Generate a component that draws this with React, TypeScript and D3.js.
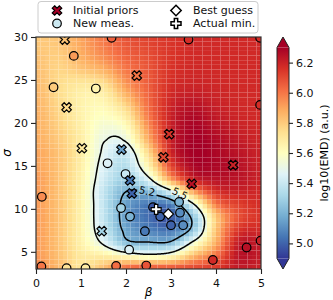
import React, { useEffect, useRef } from 'react';
import * as d3 from 'd3';

// surface nodes: log10(EMD) at (beta, sigma)
const betaNodes = [0, 0.5, 1, 1.5, 2, 2.5, 3, 3.5, 4, 4.5, 5];
const sigmaNodes = [3, 4.5, 6, 7.5, 9, 10.5, 12, 13.5, 15, 16.5, 18, 21, 24, 27, 30];
// one row per sigma node (bottom to top), one column per beta node
const emdGrid = [
  [5.97, 5.85, 5.72, 5.85, 6.05, 6.10, 6.10, 6.12, 6.15, 6.22, 6.20],
  [5.93, 5.83, 5.70, 5.68, 5.62, 5.56, 5.62, 5.85, 6.02, 6.24, 6.22],
  [5.92, 5.82, 5.66, 5.48, 5.25, 5.22, 5.24, 5.55, 5.88, 6.22, 6.22],
  [5.92, 5.82, 5.65, 5.40, 5.17, 5.08, 5.05, 5.27, 5.82, 6.15, 6.18],
  [5.92, 5.82, 5.65, 5.38, 5.14, 5.02, 4.98, 5.25, 5.80, 6.08, 6.15],
  [5.92, 5.82, 5.65, 5.38, 5.15, 5.05, 5.08, 5.48, 5.98, 6.12, 6.17],
  [5.92, 5.82, 5.65, 5.38, 5.20, 5.22, 5.45, 5.90, 6.15, 6.20, 6.18],
  [5.92, 5.82, 5.66, 5.42, 5.30, 5.47, 5.92, 6.20, 6.25, 6.24, 6.20],
  [5.90, 5.82, 5.67, 5.45, 5.35, 5.65, 6.10, 6.28, 6.28, 6.25, 6.20],
  [5.90, 5.82, 5.68, 5.48, 5.40, 5.75, 6.18, 6.30, 6.28, 6.24, 6.20],
  [5.88, 5.80, 5.68, 5.51, 5.52, 5.88, 6.20, 6.30, 6.27, 6.22, 6.19],
  [5.87, 5.77, 5.66, 5.60, 5.70, 6.00, 6.20, 6.27, 6.22, 6.19, 6.18],
  [5.85, 5.75, 5.68, 5.70, 5.90, 6.05, 6.17, 6.20, 6.19, 6.18, 6.18],
  [5.83, 5.78, 5.85, 5.92, 6.02, 6.08, 6.15, 6.18, 6.18, 6.18, 6.18],
  [5.80, 5.82, 5.90, 6.00, 6.08, 6.12, 6.15, 6.18, 6.18, 6.18, 6.18],
];

const priorBeta = [0.64, 0.68, 1.02, 1.9, 2.24, 2.96, 2.83, 3.46, 4.38, 2.09, 2.13, 1.46];
const priorSigma = [29.7, 21.8, 17.05, 16.9, 25.5, 18.7, 16.0, 12.9, 15.1, 13.3, 11.8, 7.4];
const priorEmd = [5.82, 5.75, 5.7, 5.15, 6.0, 6.15, 6.1, 6.25, 6.2, 5.05, 5.0, 5.3];

const measBeta = [1.68, 0.84, 0.39, 1.33, 1.59, 3.39, 4.98, 4.98, 0.13, 0.12, 0.68, 1.1, 1.78, 1.99,
  1.89, 2.09, 2.07, 2.42, 2.45, 2.6, 2.76, 3.0, 3.2, 3.27, 3.18, 3.93, 4.68, 4.99];
const measSigma = [29.9, 27.8, 24.15, 24.0, 15.3, 29.7, 29.9, 22.1, 11.4, 3.3, 3.1, 3.1, 3.35, 14.05,
  10.1, 9.1, 5.25, 7.4, 3.4, 10.2, 9.1, 8.1, 9.55, 8.1, 10.8, 4.05, 5.5, 6.3];
const measEmd = [6.05, 5.92, 5.8, 5.65, 5.45, 6.17, 6.17, 6.17, 5.95, 6.0, 5.72, 5.68, 6.02, 5.4,
  5.3, 5.2, 5.45, 5.05, 6.08, 4.97, 5.0, 5.0, 5.1, 5.1, 5.2, 6.18, 6.25, 6.2];

const bestGuess = { beta: 2.94, sigma: 9.4 };
const actualMin = { beta: 2.67, sigma: 9.95 };

const betaTicks = [0, 1, 2, 3, 4, 5];
const sigmaTicks = [5, 10, 15, 20, 25, 30];
const cbarTicks = [5.0, 5.2, 5.4, 5.6, 5.8, 6.0, 6.2];
const levels = [5.2, 5.5];
const levelLabels = [
  { text: '5.2', beta: 2.47, sigma: 12.05, rot: 12 },
  { text: '5.5', beta: 3.2, sigma: 11.8, rot: 26 },
];
const vmin = 4.9, vmax = 6.3;
const rdylbuR = ['#313695', '#4575b4', '#74add1', '#abd9e9', '#e0f3f8', '#ffffbf',
  '#fee090', '#fdae61', '#f46d43', '#d73027', '#a50026'];

const W = 333, H = 300;
const P = { left: 36, top: 37, right: 261, bottom: 269 };
const FONT = 'DejaVu Sans, sans-serif';

const nCol = betaNodes.length, nRow = sigmaNodes.length;
const nodePos = (nodes: number[], v: number) => {
  for (let k = 0; k < nodes.length - 1; k++) {
    if (v <= nodes[k + 1]) return k + (v - nodes[k]) / (nodes[k + 1] - nodes[k]);
  }
  return nodes.length - 1;
};
const at = (r: number, c: number) =>
  emdGrid[Math.max(0, Math.min(nRow - 1, r))][Math.max(0, Math.min(nCol - 1, c))];
const cr = (p0: number, p1: number, p2: number, p3: number, t: number) =>
  0.5 * (2 * p1 + (p2 - p0) * t + (2 * p0 - 5 * p1 + 4 * p2 - p3) * t * t + (3 * p1 - p0 - 3 * p2 + p3) * t * t * t);
function field(b: number, s: number) {
  const fc = nodePos(betaNodes, b), fr = nodePos(sigmaNodes, s);
  const c = Math.min(nCol - 2, Math.floor(fc)), r = Math.min(nRow - 2, Math.floor(fr));
  const tc = fc - c, tr = fr - r;
  const rv = [-1, 0, 1, 2].map(dr => cr(at(r + dr, c - 1), at(r + dr, c), at(r + dr, c + 1), at(r + dr, c + 2), tc));
  return cr(rv[0], rv[1], rv[2], rv[3], tr);
}

const xPath = (k: number) => {
  const p = [[-1, -2], [0, -1], [1, -2], [2, -1], [1, 0], [2, 1], [1, 2], [0, 1], [-1, 2], [-2, 1], [-1, 0], [-2, -1]];
  return 'M' + p.map(d => `${(d[0] * k) / 4},${(d[1] * k) / 4}`).join('L') + 'Z';
};
const plusPath = (k: number) => {
  const p = [[-1, -3], [1, -3], [1, -1], [3, -1], [3, 1], [1, 1], [1, 3], [-1, 3], [-1, 1], [-3, 1], [-3, -1], [-1, -1]];
  return 'M' + p.map(d => `${(d[0] * k) / 6},${(d[1] * k) / 6}`).join('L') + 'Z';
};
const diamondPath = (h: number) => `M0,${-h}L${h},0L0,${h}L${-h},0Z`;

export default function App() {
  const ref = useRef<SVGSVGElement>(null);

  useEffect(() => {
    const svg = d3.select(ref.current);
    svg.selectAll('*').remove();

    const x = d3.scaleLinear().domain([0, 5]).range([P.left, P.right]);
    const y = d3.scaleLinear().domain([3, 30]).range([P.bottom, P.top]);
    const color = d3.scaleLinear<string>()
      .domain(d3.range(11).map(i => vmin + (i * (vmax - vmin)) / 10))
      .range(rdylbuR)
      .interpolate(d3.interpolateRgb)
      .clamp(true);

    const defs = svg.append('defs');
    defs.append('clipPath').attr('id', 'plotclip')
      .append('rect').attr('x', P.left).attr('y', P.top)
      .attr('width', P.right - P.left).attr('height', P.bottom - P.top);

    // heat map
    const nx = 50, ny = 50;
    const cells: { b0: number; b1: number; s0: number; s1: number; v: number }[] = [];
    for (let j = 0; j < ny; j++) {
      for (let i = 0; i < nx; i++) {
        const b0 = (i * 5) / nx, b1 = ((i + 1) * 5) / nx;
        const s0 = 3 + (j * 27) / ny, s1 = 3 + ((j + 1) * 27) / ny;
        cells.push({ b0, b1, s0, s1, v: field((b0 + b1) / 2, (s0 + s1) / 2) });
      }
    }
    svg.append('g').selectAll('rect').data(cells).enter().append('rect')
      .attr('x', d => x(d.b0)).attr('y', d => y(d.s1))
      .attr('width', d => x(d.b1) - x(d.b0)).attr('height', d => y(d.s0) - y(d.s1))
      .attr('fill', d => color(d.v));

    // contours
    const cw = P.right - P.left, ch = P.bottom - P.top;
    const vals: number[] = new Array(cw * ch);
    for (let j = 0; j < ch; j++) {
      const s = 30 - ((j + 0.5) * 27) / ch;
      for (let i = 0; i < cw; i++) vals[j * cw + i] = -field(((i + 0.5) * 5) / cw, s);
    }
    const cont = d3.contours().size([cw, ch]).thresholds(levels.map(l => -l))(vals);

    const mask = defs.append('mask').attr('id', 'lblmask')
      .attr('maskUnits', 'userSpaceOnUse').attr('x', 0).attr('y', 0).attr('width', W).attr('height', H);
    mask.append('rect').attr('width', W).attr('height', H).attr('fill', 'white');
    levelLabels.forEach(l => {
      mask.append('rect').attr('x', -10).attr('y', -6).attr('width', 20).attr('height', 12).attr('fill', 'black')
        .attr('transform', `translate(${x(l.beta)},${y(l.sigma)}) rotate(${l.rot})`);
    });

    svg.append('g').attr('mask', 'url(#lblmask)').append('g')
      .attr('transform', `translate(${P.left},${P.top})`)
      .selectAll('path').data(cont).enter().append('path')
      .attr('d', d => d3.geoPath()(d as any))
      .attr('fill', 'none').attr('stroke', '#000').attr('stroke-width', 1.5);

    svg.append('g').selectAll('text').data(levelLabels).enter().append('text')
      .attr('transform', d => `translate(${x(d.beta)},${y(d.sigma)}) rotate(${d.rot})`)
      .attr('text-anchor', 'middle').attr('dy', '0.36em')
      .style('font-family', FONT).style('font-size', '10px').attr('fill', '#000')
      .text(d => d.text);

    // markers
    const mk = svg.append('g').attr('clip-path', 'url(#plotclip)');
    mk.selectAll('circle').data(measBeta).enter().append('circle')
      .attr('cx', d => x(d)).attr('cy', (d, i) => y(measSigma[i])).attr('r', 4.3)
      .attr('fill', (d, i) => color(measEmd[i])).attr('stroke', '#000').attr('stroke-width', 1.2);
    mk.selectAll('path.prior').data(priorBeta).enter().append('path').attr('class', 'prior')
      .attr('d', xPath(9.5))
      .attr('transform', (d, i) => `translate(${x(d)},${y(priorSigma[i])})`)
      .attr('fill', (d, i) => color(priorEmd[i])).attr('stroke', '#000').attr('stroke-width', 1.2);
    mk.append('path').attr('d', plusPath(10))
      .attr('transform', `translate(${x(actualMin.beta)},${y(actualMin.sigma)})`)
      .attr('fill', '#fff').attr('stroke', '#000').attr('stroke-width', 1.2);
    mk.append('path').attr('d', diamondPath(5.2))
      .attr('transform', `translate(${x(bestGuess.beta)},${y(bestGuess.sigma)})`)
      .attr('fill', '#fff').attr('stroke', '#000').attr('stroke-width', 1.2);

    // axes
    const styleAxis = (g: any) => {
      g.select('.domain').remove();
      g.selectAll('.tick line').attr('stroke', '#222').attr('stroke-width', 1.1);
      g.selectAll('.tick text').attr('fill', '#111').style('font-family', FONT).style('font-size', '11px');
    };
    svg.append('g').attr('transform', `translate(0,${P.bottom})`)
      .call(d3.axisBottom(x).tickValues(betaTicks).tickFormat(d3.format('d')).tickSize(5).tickPadding(5))
      .call(styleAxis);
    svg.append('g').attr('transform', `translate(${P.left},0)`)
      .call(d3.axisLeft(y).tickValues(sigmaTicks).tickFormat(d3.format('d')).tickSize(5).tickPadding(3))
      .call(styleAxis);
    svg.append('rect').attr('x', P.left).attr('y', P.top)
      .attr('width', P.right - P.left).attr('height', P.bottom - P.top)
      .attr('fill', 'none').attr('stroke', '#333').attr('stroke-width', 1.2);

    svg.append('text').attr('x', (P.left + P.right) / 2).attr('y', 296)
      .attr('text-anchor', 'middle').style('font-family', FONT).style('font-size', '12px')
      .style('font-style', 'italic').text('β');
    svg.append('text').attr('transform', `translate(11,${(P.top + P.bottom) / 2}) rotate(-90)`)
      .attr('text-anchor', 'middle').style('font-family', FONT).style('font-size', '12px')
      .style('font-style', 'italic').text('σ');

    // colorbar
    const cbX = 277, cbW = 12;
    const ext = (P.bottom - P.top) / 1.1 * 0.05;
    const cb = d3.scaleLinear().domain([vmin, vmax]).range([P.bottom - ext, P.top + ext]);
    const grad = defs.append('linearGradient').attr('id', 'cbgrad')
      .attr('x1', 0).attr('y1', 1).attr('x2', 0).attr('y2', 0);
    rdylbuR.forEach((c, i) => grad.append('stop').attr('offset', i / 10).attr('stop-color', c));
    svg.append('rect').attr('x', cbX).attr('y', cb(vmax)).attr('width', cbW)
      .attr('height', cb(vmin) - cb(vmax)).attr('fill', 'url(#cbgrad)');
    svg.append('path')
      .attr('d', `M${cbX},${cb(vmax)}L${cbX + cbW / 2},${P.top}L${cbX + cbW},${cb(vmax)}Z`)
      .attr('fill', rdylbuR[10]);
    svg.append('path')
      .attr('d', `M${cbX},${cb(vmin)}L${cbX + cbW / 2},${P.bottom}L${cbX + cbW},${cb(vmin)}Z`)
      .attr('fill', rdylbuR[0]);
    svg.append('path')
      .attr('d', `M${cbX},${cb(vmax)}L${cbX + cbW / 2},${P.top}L${cbX + cbW},${cb(vmax)}L${cbX + cbW},${cb(vmin)}L${cbX + cbW / 2},${P.bottom}L${cbX},${cb(vmin)}Z`)
      .attr('fill', 'none').attr('stroke', '#222').attr('stroke-width', 1);
    svg.append('g').attr('transform', `translate(${cbX + cbW},0)`)
      .call(d3.axisRight(cb).tickValues(cbarTicks).tickFormat(d3.format('.1f')).tickSize(4).tickPadding(3))
      .call(styleAxis);
    svg.append('text').attr('transform', `translate(324,${(P.top + P.bottom) / 2}) rotate(-90)`)
      .attr('text-anchor', 'middle').attr('dy', '0.35em')
      .style('font-family', FONT).style('font-size', '11px').text('log10(EMD) (a.u.)');

    // legend
    const lg = svg.append('g');
    lg.append('rect').attr('x', 38).attr('y', 1.5).attr('width', 220).attr('height', 31.5).attr('rx', 3)
      .attr('fill', '#fff').attr('fill-opacity', 0.9).attr('stroke', '#ccc').attr('stroke-width', 1);
    const rowY = [10.5, 23.5];
    lg.append('path').attr('d', xPath(9.5)).attr('transform', `translate(57,${rowY[0]})`)
      .attr('fill', '#a50026').attr('stroke', '#000').attr('stroke-width', 1.2);
    lg.append('circle').attr('cx', 57).attr('cy', rowY[1]).attr('r', 4.3)
      .attr('fill', '#cbe8f1').attr('stroke', '#000').attr('stroke-width', 1.2);
    lg.append('path').attr('d', diamondPath(5.2)).attr('transform', `translate(176,${rowY[0]})`)
      .attr('fill', '#fff').attr('stroke', '#000').attr('stroke-width', 1.5);
    lg.append('path').attr('d', plusPath(10)).attr('transform', `translate(176,${rowY[1]})`)
      .attr('fill', '#fff').attr('stroke', '#000').attr('stroke-width', 1.5);
    const legendText = [
      { t: 'Initial priors', x: 73, y: rowY[0] },
      { t: 'New meas.', x: 73, y: rowY[1] },
      { t: 'Best guess', x: 193, y: rowY[0] },
      { t: 'Actual min.', x: 193, y: rowY[1] },
    ];
    lg.selectAll('text').data(legendText).enter().append('text')
      .attr('x', d => d.x).attr('y', d => d.y).attr('dy', '0.36em')
      .style('font-family', FONT).style('font-size', '11px').attr('fill', '#111')
      .text(d => d.t);
  }, []);

  return (
    <svg ref={ref} width={W} height={H}
      style={{ position: 'absolute', left: 0, top: 0, background: '#fff' }} />
  );
}
